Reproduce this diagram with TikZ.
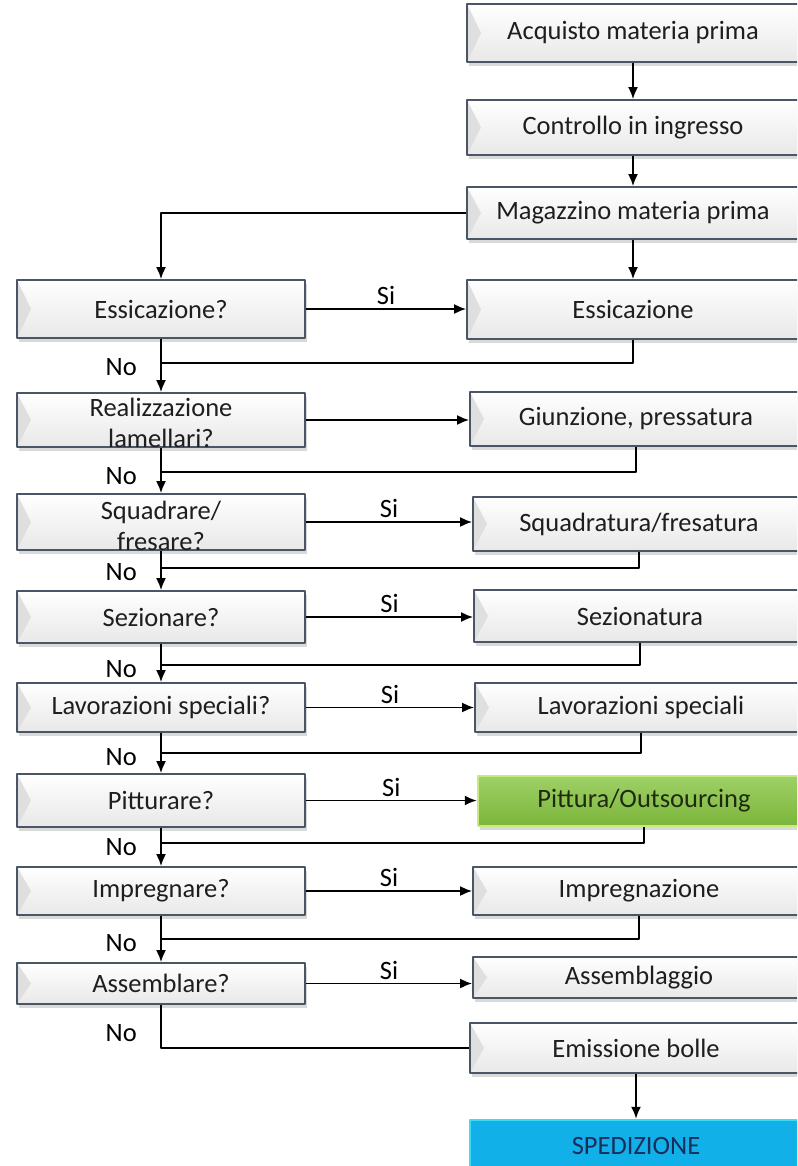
\documentclass[tikz,border=0pt]{standalone}
\usepackage{fontspec}
\setmainfont{Carlito}
\usetikzlibrary{arrows.meta,shadows}
\definecolor{boxline}{HTML}{4A5566}
\definecolor{txt}{HTML}{1E1E1E}
\definecolor{pitfill}{HTML}{86C540}
\definecolor{pitglow}{HTML}{C6EA80}
\definecolor{pittext}{HTML}{1F2A10}
\definecolor{spefill}{HTML}{12B0E8}
\definecolor{speglow}{HTML}{3ADCF6}
\definecolor{spetext}{HTML}{1A2E5C}
\begin{document}
\begin{tikzpicture}[x=1pt, y=-1pt, line join=round, >={Latex[length=12pt,width=10pt]},
	font=\fontsize{26.5}{31}\selectfont,
	boxbase/.style={line width=1.8pt, inner sep=0pt, drop shadow={shadow xshift=1.5pt, shadow yshift=-4pt, opacity=0.3}},
	flow/.style={boxbase, draw=boxline, text=txt, top color=white, middle color=white, bottom color=gray!18,
		path picture={\fill[gray!25] (path picture bounding box.north west) -- ([xshift=14pt]path picture bounding box.west) -- (path picture bounding box.south west) -- cycle;}},
	stepbox/.style={flow, minimum width=332pt, minimum height=#1},
	askbox/.style={flow, minimum width=288pt, minimum height=#1},
	paintbox/.style={boxbase, draw=pitglow, line width=2.5pt, text=pittext, top color=pitfill!80!white, middle color=pitfill, bottom color=pitfill!92!black, minimum width=332pt, minimum height=#1},
	shipbox/.style={boxbase, draw=speglow, line width=2.5pt, text=spetext, fill=spefill, minimum width=332pt, minimum height=#1},
	qtext/.style={align=center, text=txt, inner sep=0pt},
	lbl/.style={inner sep=1pt, text=black},
	link/.style={line width=1.8pt}]
	\useasboundingbox (0,0) rectangle (797,1166);
	\clip (0,0) rectangle (797,1166);
	% right column
	\node[stepbox=58pt] (acq) at (633,33) {Acquisto materia prima};
	\node[stepbox=55pt] (con) at (633,127.5) {Controllo in ingresso};
	\node[stepbox=52pt] (mag) at (633,213) {Magazzino materia prima};
	\node[stepbox=59pt] (ess) at (633,309.5) {Essicazione};
	\node[stepbox=54pt] (giu) at (636,419) {Giunzione, pressatura};
	\node[stepbox=54pt] (squ) at (639,524) {Squadratura/fresatura};
	\node[stepbox=52pt] (sez) at (640,616) {Sezionatura};
	\node[stepbox=49pt] (lav) at (641,707.5) {Lavorazioni speciali};
	\node[paintbox=50pt] (pit) at (644,801) {Pittura/Outsourcing};
	\node[stepbox=48pt] (imp) at (639,891) {Impregnazione};
	\node[stepbox=41pt] (ass) at (639,977.5) {Assemblaggio};
	\node[stepbox=50pt] (emi) at (636,1048) {Emissione bolle};
	\node[shipbox=52pt] (spe) at (636,1146) {SPEDIZIONE};
	% left column
	\node[askbox=58pt] (qess) at (161,309) {Essicazione?};
	\node[askbox=54pt, label={[qtext, yshift=-3pt]center:Realizzazione\\lamellari?}] (qrea) at (161,420) {};
	\node[askbox=56pt, label={[qtext, yshift=-4pt]center:Squadrare/\\fresare?}] (qsqu) at (161,522) {};
	\node[askbox=52pt] (qsez) at (161,617) {Sezionare?};
	\node[askbox=49pt] (qlav) at (161,707.5) {Lavorazioni speciali?};
	\node[askbox=53pt] (qpit) at (161,800.5) {Pitturare?};
	\node[askbox=48pt] (qimp) at (161,891) {Impregnare?};
	\node[askbox=41pt] (qass) at (161,983.5) {Assemblare?};
	\coordinate (j1) at (161,363);
	\coordinate (j2) at (161,472);
	\coordinate (j3) at (161,568);
	\coordinate (j4) at (161,665);
	\coordinate (j5) at (161,753);
	\coordinate (j6) at (161,843);
	\coordinate (j7) at (161,939);
	\coordinate (j8) at (161,1033);
	% connectors
	\draw[link,->] (acq.south) -- (con.north);
	\draw[link,->] (con.south) -- (mag.north);
	\draw[link,->] (mag.west) -| (qess.north);
	\draw[link,->] (mag.south) -- (ess.north);
	\draw[link,->] (qrea.east) -- (qrea.east -| giu.west);
	\foreach \q/\r in {qess/ess, qsqu/squ, qsez/sez, qlav/lav, qpit/pit, qimp/imp, qass/ass}
		\draw[link,->] (\q.east) -- (\q.east -| \r.west) node[lbl, midway, above=2pt] (si-\r) {Si};
	\foreach \r/\j in {ess/j1, giu/j2, squ/j3, sez/j4, lav/j5, pit/j6, imp/j7}
		\draw[link] (\r.south) |- (\j);
	\foreach \a/\b/\j in {qess/qrea/j1, qrea/qsqu/j2, qsqu/qsez/j3, qsez/qlav/j4, qlav/qpit/j5, qpit/qimp/j6, qimp/qass/j7}{
		\draw[link,->] (\a.south) -- (\b.north);
		\node[lbl, anchor=east] (no-\j) at ([xshift=-23pt, yshift=-4pt]\j) {No};
	}
	\draw[link] (qass.south) |- (emi.west);
	\node[lbl, anchor=east] (no-j8) at ([xshift=-23pt]j8) {No};
	\draw[link,->] (emi.south) -- (spe.north);
\end{tikzpicture}
\end{document}
